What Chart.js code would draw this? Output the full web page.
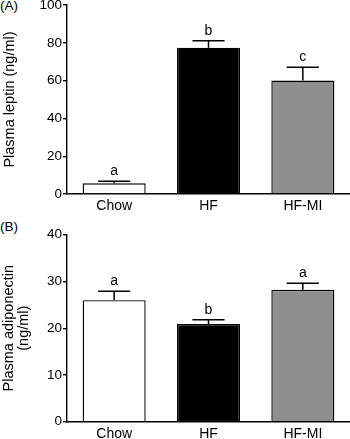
<!DOCTYPE html>
<html>
<head>
<meta charset="utf-8">
<script src="https://cdn.jsdelivr.net/npm/chart.js@4.4.1/dist/chart.umd.min.js"></script>
<style>
  html, body { margin: 0; padding: 0; background: #fff; width: 350px; height: 439px; overflow: hidden; position: relative; }
  .wrap { position: absolute; left: 0; width: 350px; }
  .panel { position: absolute; left: 0; font-family: "Liberation Sans", Arial, sans-serif; font-size: 13.5px; color: #000; }
</style>
</head>
<body>
<div class="panel" style="top:-2px;">(A)</div>
<div class="panel" style="top:219px;">(B)</div>
<div class="wrap" style="top:-20px;height:240px;"><canvas id="cA" width="350" height="240"></canvas></div>
<div class="wrap" style="top:215px;height:224px;"><canvas id="cB" width="350" height="224"></canvas></div>
<script>
const categories = ['Chow', 'HF', 'HF-MI'];
const barColors = ['#ffffff', '#000000', '#8f8f8f'];

const leptinMean = [5.7, 77.4, 60];
const leptinErrTop = [6.7, 81.1, 67];
const leptinLetters = ['a', 'b', 'c'];
const leptinTicks = [0, 20, 40, 60, 80, 100];

const adipoMean = [26, 20.9, 28.2];
const adipoErrTop = [27.9, 21.8, 29.6];
const adipoLetters = ['a', 'b', 'a'];
const adipoTicks = [0, 10, 20, 30, 40];

const FONT = '"Liberation Sans", Arial, sans-serif';

function errPlugin(errTop, letters) {
  return {
    id: 'errbars',
    afterDatasetsDraw(chart) {
      const ctx = chart.ctx;
      const meta = chart.getDatasetMeta(0);
      const ys = chart.scales.y;
      ctx.save();
      ctx.strokeStyle = '#000';
      ctx.lineWidth = 1.5;
      ctx.fillStyle = '#000';
      ctx.font = '14px ' + FONT;
      ctx.textAlign = 'center';
      ctx.textBaseline = 'middle';
      meta.data.forEach((bar, i) => {
        const x = bar.x;
        const yb = bar.y;
        const yt = ys.getPixelForValue(errTop[i]);
        const half = bar.width * 0.255;
        ctx.beginPath();
        ctx.moveTo(x, yb);
        ctx.lineTo(x, yt);
        ctx.moveTo(x - half, yt);
        ctx.lineTo(x + half, yt);
        ctx.stroke();
        ctx.fillText(letters[i], x, yt - 10);
      });
      ctx.restore();
    }
  };
}

function makeChart(id, means, errTop, letters, ticks, title, pad, xHeight, titlePad, titleLH) {
  const maxV = ticks[ticks.length - 1];
  return new Chart(document.getElementById(id), {
    type: 'bar',
    data: {
      labels: categories,
      datasets: [{
        data: means,
        backgroundColor: barColors,
        borderColor: '#000',
        borderWidth: 1.4,
        borderSkipped: 'bottom',
        categoryPercentage: 1,
        barPercentage: 0.668
      }]
    },
    options: {
      responsive: false,
      animation: false,
      events: [],
      layout: { padding: { top: pad, left: 0, right: 0, bottom: 0 } },
      plugins: { legend: { display: false }, tooltip: { enabled: false }, title: { display: false } },
      scales: {
        x: {
          grid: { display: false, drawTicks: false, tickLength: 0 },
          border: { display: true, color: '#000', width: 1.4 },
          ticks: { color: '#000', font: { family: FONT, size: 14 }, padding: 4, maxRotation: 0 },
          afterFit(s) { s.height = xHeight; }
        },
        y: {
          min: 0, max: maxV,
          afterBuildTicks(s) { s.ticks = ticks.map(v => ({ value: v })); },
          grid: { drawOnChartArea: false, drawTicks: true, tickLength: 4, color: '#000', lineWidth: 1.4 },
          border: { display: true, color: '#000', width: 1.4 },
          ticks: { color: '#000', font: { family: FONT, size: 13.5 }, padding: 1 },
          title: { display: true, text: title, color: '#000', font: { family: FONT, size: 14.5, lineHeight: titleLH }, padding: { top: titlePad, bottom: 0 } },
          afterFit(s) { s.width = 67; }
        }
      }
    },
    plugins: [errPlugin(errTop, letters)]
  });
}

makeChart('cA', leptinMean, leptinErrTop, leptinLetters, leptinTicks, 'Plasma leptin (ng/ml)', 25, 26, 1.3, 1.15);
makeChart('cB', adipoMean, adipoErrTop, adipoLetters, adipoTicks, ['Plasma adiponectin', '(ng/ml)'], 19.7, 17.3, 1.6, 1.05);
</script>
</body>
</html>
